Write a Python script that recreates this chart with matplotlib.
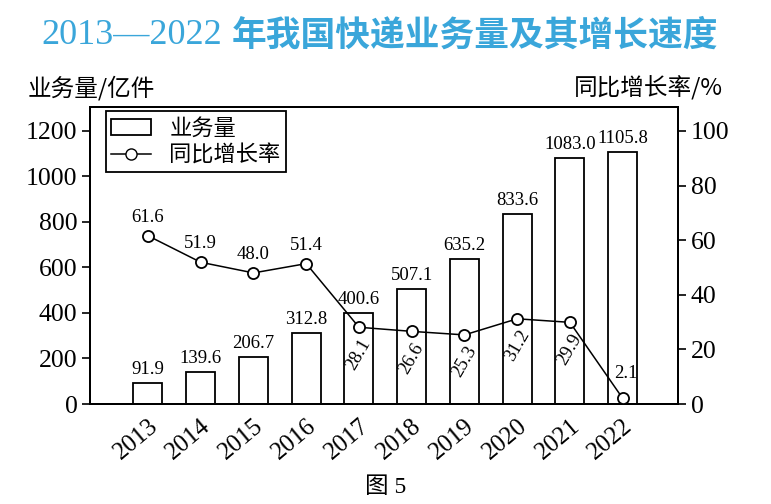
import numpy as np
import matplotlib.pyplot as plt
from matplotlib.patches import Rectangle
from matplotlib.lines import Line2D

plt.rcParams['font.family'] = ['Liberation Serif', 'Noto Sans CJK SC', 'DejaVu Sans']

years = ['2013', '2014', '2015', '2016', '2017', '2018', '2019', '2020', '2021', '2022']
volume = [91.9, 139.6, 206.7, 312.8, 400.6, 507.1, 635.2, 833.6, 1083.0, 1105.8]
growth = [61.6, 51.9, 48.0, 51.4, 28.1, 26.6, 25.3, 31.2, 29.9, 2.1]
vol_labels = ['91.9', '139.6', '206.7', '312.8', '400.6', '507.1', '635.2', '833.6', '1083.0', '1105.8']
growth_labels = ['61.6', '51.9', '48.0', '51.4', '28.1', '26.6', '25.3', '31.2', '29.9', '2.1']

cjk = ['Noto Sans CJK SC', 'DejaVu Sans']
title_color = '#3aa6da'

fig = plt.figure(figsize=(7.71, 5.04), dpi=100)
ax = fig.add_axes([0.1167, 0.1984, 0.7627, 0.5893])
ax2 = ax.twinx()

x = np.arange(len(years))

# bars
ax.bar(x, volume, width=0.55, facecolor='white', edgecolor='black', linewidth=1.3, zorder=2)
for xi, v, s in zip(x, volume, vol_labels):
    ax.annotate(s, (xi, v), xytext=(0, 5), textcoords='offset pixels',
                ha='center', va='bottom', fontsize=13.5)

ax.set_xlim(-1.1, 10.05)
ax.set_ylim(0, 1305)
ax.set_yticks([0, 200, 400, 600, 800, 1000, 1200])
ax.set_xticks(x)
ax.set_xticklabels(years, rotation=40, ha='right', rotation_mode='anchor', fontsize=18)
ax.tick_params(axis='x', length=0, pad=8)
ax.tick_params(axis='y', direction='out', length=6, width=1.2, labelsize=18.5, pad=3)

# growth line
ax2.plot(x, growth, color='black', linewidth=1.1, marker='o', markersize=8,
         markerfacecolor='white', markeredgecolor='black', markeredgewidth=1.3, zorder=3)
ax2.set_ylim(0, 108.75)
ax2.set_yticks([0, 20, 40, 60, 80, 100])
ax2.tick_params(axis='y', direction='out', length=6, width=1.2, labelsize=18.5, pad=3)

for i, (g, s) in enumerate(zip(growth, growth_labels)):
    if i < 4:
        ax2.annotate(s, (i, g), xytext=(0, 10), textcoords='offset pixels',
                     ha='center', va='bottom', fontsize=13.5)
    elif i < 9:
        ax2.annotate(s, (i, g), xytext=(0, -27), textcoords='offset pixels',
                     ha='center', va='center', fontsize=13.5, rotation=60)
    else:
        ax2.annotate(s, (i, g), xytext=(3, 16), textcoords='offset pixels',
                     ha='center', va='bottom', fontsize=13.5)

for a in (ax, ax2):
    for sp in a.spines.values():
        sp.set_linewidth(1.4)

# legend
handles = [Rectangle((0, 0), 1, 1, facecolor='white', edgecolor='black', linewidth=1.3),
           Line2D([], [], color='black', linewidth=1.1, marker='o', markersize=8,
                  markerfacecolor='white', markeredgecolor='black')]
leg = ax.legend(handles, ['业务量', '同比增长率'], loc='upper left',
                bbox_to_anchor=(0.027, 0.985), borderaxespad=0,
                prop={'family': cjk, 'size': 16},
                frameon=True, fancybox=False, edgecolor='black', framealpha=1,
                handlelength=1.8, borderpad=0.25, labelspacing=0.15, handletextpad=0.8)
leg.get_frame().set_linewidth(1.3)

fig.text(0.288, 0.93, '2013—2022', ha='right', va='center',
         fontsize=26, color=title_color, family='Liberation Serif')
fig.text(0.30, 0.93, '年我国快递业务量及其增长速度', ha='left', va='center',
         fontsize=25, color=title_color, family=cjk, fontweight='bold')
fig.text(0.036, 0.825, '业务量/亿件', ha='left', va='center', fontsize=17, family=cjk)
fig.text(0.937, 0.825, '同比增长率/%', ha='right', va='center', fontsize=17, family=cjk)
fig.text(0.5, 0.032, '图 5', ha='center', va='center', fontsize=17)

fig.savefig('out.png', dpi=100)
